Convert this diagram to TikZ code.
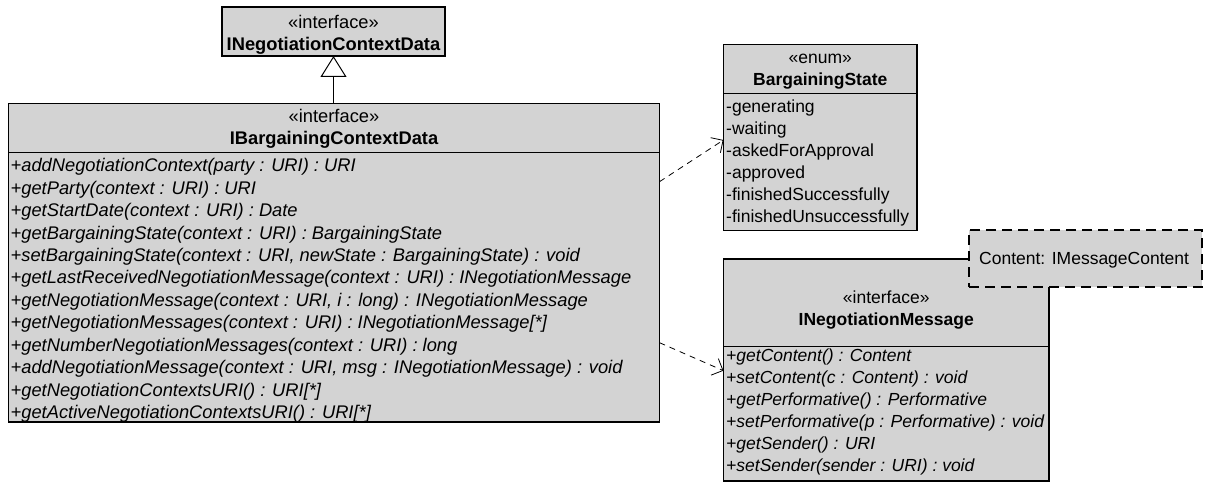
\documentclass[tikz,border=0pt]{standalone}
\usepackage{fontspec}
\setmainfont{Liberation Sans}
\usetikzlibrary{arrows.meta}
\definecolor{umlfill}{RGB}{211,211,211}
\newcommand{\bigtxt}{\fontsize{18.3}{18.3}\selectfont}
\newcommand{\smalltxt}{\fontsize{17.5}{17.5}\selectfont}
\begin{document}
\begin{tikzpicture}[x=1pt,y=-1pt,
  umlbox/.style={draw=black,fill=umlfill,line width=1.3pt,anchor=north west,inner sep=0pt,outer sep=0pt},
  sepline/.style={draw=black,line width=1.3pt},
  hdr/.style={inner sep=0pt,anchor=base},
  member/.style={inner sep=0pt,anchor=base west},
  dep/.style={draw=black,line width=0.8pt,dash pattern=on 6pt off 5pt,-{Straight Barb[length=9pt,width=18pt,line width=0.8pt]}},
  gen/.style={draw=black,line width=0.8pt,-{Triangle[open,length=21pt,width=26pt,line width=1pt,fill=white]}}
]
\useasboundingbox (0,0) rectangle (1227,484);

% INegotiationContextData
\node[umlbox,minimum width=223pt,minimum height=49pt] (icd) at (222,7) {};
\node[hdr,font=\bigtxt] (icdS) at (333.5,28.5) {«interface»};
\node[hdr,font=\bigtxt\bfseries] (icdN) at (333.5,50.3) {INegotiationContextData};

% IBargainingContextData
\node[umlbox,minimum width=651pt,minimum height=318.5pt] (bcd) at (8.5,103.5) {};
\draw[sepline] (bcd.west |- 0,152.3) -- (bcd.east |- 0,152.3);
\node[hdr,font=\bigtxt] (bcdS) at (334,122.5) {«interface»};
\node[hdr,font=\bigtxt\bfseries] (bcdN) at (334,145) {IBargainingContextData};
\foreach \t [count=\i from 0] in {
  +addNegotiationContext(party : URI) : URI,
  +getParty(context : URI) : URI,
  +getStartDate(context : URI) : Date,
  +getBargainingState(context : URI) : BargainingState,
  {+setBargainingState(context : URI, newState : BargainingState) : void},
  +getLastReceivedNegotiationMessage(context : URI) : INegotiationMessage,
  {+getNegotiationMessage(context : URI, i : long) : INegotiationMessage},
  +getNegotiationMessages(context : URI) : INegotiationMessage[*],
  +getNumberNegotiationMessages(context : URI) : long,
  {+addNegotiationMessage(context : URI, msg : INegotiationMessage) : void},
  +getNegotiationContextsURI() : URI[*],
  +getActiveNegotiationContextsURI() : URI[*]}
  \node[member,font=\bigtxt\itshape] (bcdop\i) at (10.5,171.7+22.45*\i) {\t};

% BargainingState
\node[umlbox,minimum width=193.5pt,minimum height=186pt] (bs) at (723.5,44.8) {};
\draw[sepline] (bs.west |- 0,93.5) -- (bs.east |- 0,93.5);
\node[hdr,font=\smalltxt] (bsS) at (bs.north |- 0,63.7) {«enum»};
\node[hdr,font=\smalltxt\bfseries] (bsN) at (bs.north |- 0,85.7) {BargainingState};
\foreach \t [count=\i from 0] in {-generating,-waiting,-askedForApproval,-approved,-finishedSuccessfully,-finishedUnsuccessfully}
  \node[member,font=\smalltxt] (bslit\i) at (726,112.7+22*\i) {\t};

% INegotiationMessage
\node[umlbox,minimum width=325.5pt,minimum height=222pt] (nm) at (723.5,259) {};
\draw[sepline] (nm.west |- 0,346.7) -- (nm.east |- 0,346.7);
\node[hdr,font=\smalltxt] (nmS) at (nm.north |- 0,303.3) {«interface»};
\node[hdr,font=\smalltxt\bfseries] (nmN) at (nm.north |- 0,325) {INegotiationMessage};
\foreach \t [count=\i from 0] in {
  +getContent() : Content,
  +setContent(c : Content) : void,
  +getPerformative() : Performative,
  +setPerformative(p : Performative) : void,
  +getSender() : URI,
  +setSender(sender : URI) : void}
  \node[member,font=\smalltxt\itshape] (nmop\i) at (726,361.7+22*\i) {\t};

% template parameter of INegotiationMessage
\node[umlbox,dash pattern=on 10pt off 6pt,minimum width=233pt,minimum height=57pt] (tp) at (969,230) {};
\node[member,font=\smalltxt] (tpT) at (979,264.5) {Content: IMessageContent};

% relations
\coordinate (d1s) at (bcd.east |- 0,181.7);
\coordinate (d1e) at (bs.west |- 0,140);
\coordinate (d2s) at (bcd.east |- 0,342.7);
\coordinate (d2e) at (nm.west |- 0,370.7);
\draw[gen] (bcd.north -| icd.south) -- (icd.south);
\draw[dep] (d1s) -- (d1e);
\draw[dep] (d2s) -- (d2e);
\end{tikzpicture}
\end{document}
